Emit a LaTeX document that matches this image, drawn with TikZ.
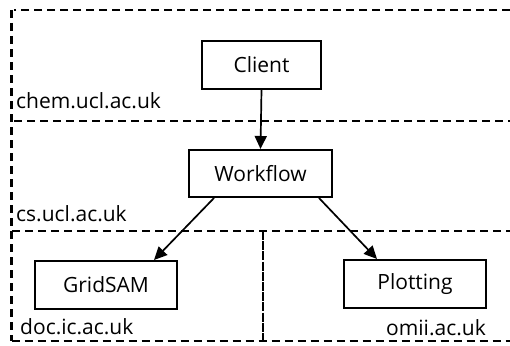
\documentclass[tikz,border=0pt]{standalone}
\usepackage{fontspec}
\setmainfont{Open Sans}
\usetikzlibrary{arrows.meta}
\begin{document}
\begin{tikzpicture}[x=1pt,y=-1pt,
  frame/.style={line width=2.1pt,dash pattern=on 8pt off 5pt},
  divider/.style={line width=2.1pt,dash pattern=on 9pt off 1.2pt},
  box/.style={draw,line width=2pt,minimum height=48pt,inner sep=0pt,font=\fontsize{21}{25}\selectfont},
  lbl/.style={inner sep=0pt,font=\fontsize{21}{25}\selectfont},
  conn/.style={line width=1.7pt,-{Triangle[length=13pt,width=12pt]}}]
\useasboundingbox (0,0) rectangle (510,345);
% frames
\coordinate (tl) at (11.5,10);
\coordinate (tr) at (510,10);
\coordinate (bl) at (11.5,341);
\coordinate (br) at (510,341);
\draw[frame] (tr) -- (14,10);
\draw[frame] (tl) -- (bl);
\draw[frame] (14,121) -- (510,121);
\draw[frame] (12,231) -- (510,231);
\draw[frame] (bl) -- (br);
\draw[divider] (263,231) -- (263,341);
% nodes
\node[box,minimum width=119pt] (client) at (261.5,65) {Client};
\node[box,minimum width=143pt,minimum height=47pt] (workflow) at (260.5,173.5) {Workflow};
\node[box,minimum width=142pt] (gridsam) at (106,285) {GridSAM};
\node[box,minimum width=142pt] (plotting) at (415,284) {Plotting};
% labels
\node[lbl,anchor=base west] (chem) at (16,108) {chem.ucl.ac.uk};
\node[lbl,anchor=base west] (cs) at (16,221) {cs.ucl.ac.uk};
\node[lbl,anchor=base west] (doc) at (20,334) {doc.ic.ac.uk};
\node[lbl,anchor=base east] (omii) at (486,335) {omii.ac.uk};
% connectors
\draw[conn] (client.south) -- (workflow.north);
\draw[conn] ([xshift=26pt]workflow.south west) -- ([xshift=120pt]gridsam.north west);
\draw[conn] ([xshift=-14pt]workflow.south east) -- ([xshift=34pt]plotting.north west);
\end{tikzpicture}
\end{document}
